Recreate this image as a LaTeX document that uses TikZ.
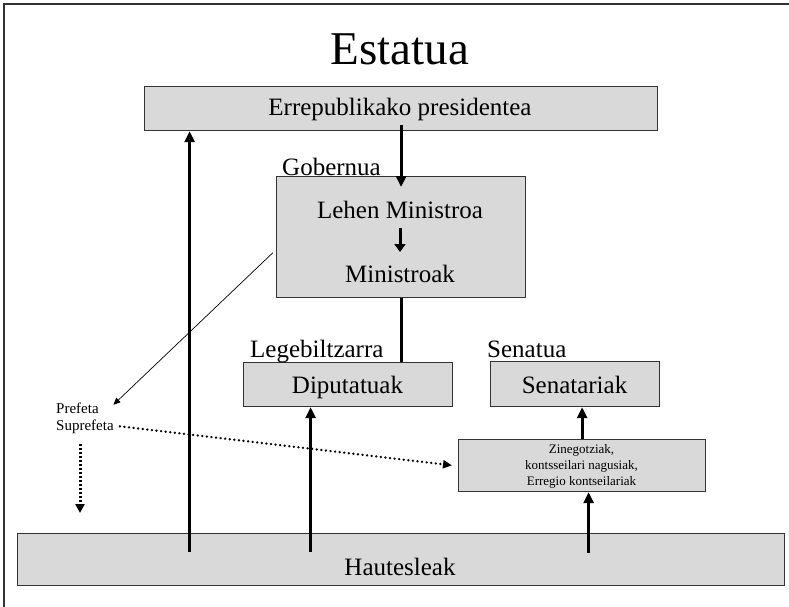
\documentclass[tikz,border=0pt]{standalone}
\usepackage{fontspec}
\setmainfont{Liberation Serif}
\usetikzlibrary{arrows.meta}
\definecolor{boxfill}{HTML}{D9D9D9}
\definecolor{boxline}{HTML}{333333}
\begin{document}
\begin{tikzpicture}[x=1pt,y=-1pt,
  box/.style={draw=boxline, line width=1.2pt, fill=boxfill, rectangle, inner sep=0pt, anchor=north west},
  txt/.style={inner sep=0pt, font=\fontsize{25}{30}\selectfont, anchor=base},
  ltxt/.style={inner sep=0pt, font=\fontsize{25}{30}\selectfont, anchor=base west},
  stxt/.style={inner sep=0pt, font=\fontsize{15}{18}\selectfont, anchor=base west},
  big/.style={line width=3pt, -{Triangle[length=11pt,width=10pt]}},
  thinarr/.style={line width=0.7pt, -{Triangle[length=7pt,width=6pt]}},
  dotarr/.style={line width=2.6pt, line cap=round, dash pattern=on 0.01pt off 4.6pt, -{Triangle[length=9pt,width=8pt,line cap=butt]}},
  vdotarr/.style={line width=3pt, dash pattern=on 2pt off 2pt, -{Triangle[length=9pt,width=9pt]}},
  frameline/.style={draw=boxline, line width=1.3pt}
]
\useasboundingbox (0,0) rectangle (789,607);
\draw[frameline] (4,607) -- (4,4) -- (789,4);

\node[font=\fontsize{47}{56}\selectfont, anchor=base, inner sep=0pt] (title) at (400,65) {Estatua};

% boxes
\node[box, minimum width=513pt, minimum height=44pt] (pres) at (144,86) {};
\node[box, minimum width=249pt, minimum height=121pt] (gob) at (276,176) {};
\node[box, minimum width=209pt, minimum height=44pt] (dip) at (243,362) {};
\node[box, minimum width=169pt, minimum height=45pt] (sen) at (490,361) {};
\node[box, minimum width=247pt, minimum height=52.5pt] (zin) at (458,438.5) {};
\node[box, minimum width=767pt, minimum height=52pt] (haut) at (17,533) {};

% texts
\node[txt] (presT) at (400,116) {Errepublikako presidentea};
\node[ltxt] (gobL) at (282,175) {Gobernua};
\node[txt] (lm) at (400,218) {Lehen Ministroa};
\node[txt] (mi) at (400,282) {Ministroak};
\node[ltxt] (legL) at (250,357) {Legebiltzarra};
\node[txt] (dipT) at (347.5,393) {Diputatuak};
\node[ltxt] (senL) at (487,357) {Senatua};
\node[txt] (senT) at (574.5,393) {Senatariak};
\node[inner sep=0pt, align=center, font=\fontsize{13}{16}\selectfont] (zinT) at (581.5,466) {Zinegotziak,\\kontsseilari nagusiak,\\Erregio kontseilariak};
\node[txt] (hautT) at (400,575) {Hautesleak};
\node[stxt] (pref) at (56,413) {Prefeta};
\node[stxt] (supref) at (56,430) {Suprefeta};

% connectors
\draw[big] ([yshift=6pt]pres.south) -- ([yshift=-11pt]gob.north);
\draw[line width=3pt, -{Triangle[length=8pt,width=11pt]}] ([yshift=-10pt]lm.base) -- ([yshift=30pt]mi.base);
\draw[line width=3pt] (gob.south) -- (gob.south |- dip.north);

\coordinate (v1) at ([xshift=-211.5pt,yshift=-19pt]haut.north);
\coordinate (v2) at ([xshift=-90.5pt,yshift=-19pt]haut.north);
\coordinate (v3) at ([xshift=187.5pt,yshift=-20pt]haut.north);
\draw[big] (v1) -- (v1 |- pres.south);
\draw[big] (v2) -- (v2 |- dip.south);
\draw[big] (v3) -- (v3 |- zin.south);
\draw[big] (zin.north) -- (zin.north |- sen.south);

\draw[thinarr] ([shift={(-3pt,-15.5pt)}]gob.west) -- ([shift={(14.5pt,3pt)}]pref.east);
\draw[dotarr] ([xshift=6pt]supref.east) -- ([xshift=-6pt]zin.west);

\coordinate (d1) at (80,444);
\coordinate (d2) at (80,513);
\draw[vdotarr] (d1) -- (d2);
\end{tikzpicture}
\end{document}
